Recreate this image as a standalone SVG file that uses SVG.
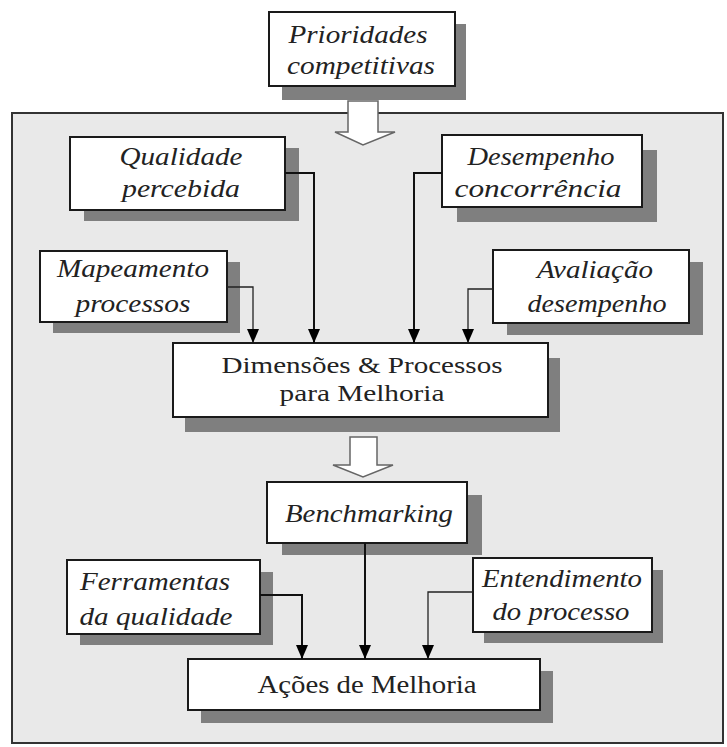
<svg xmlns="http://www.w3.org/2000/svg" width="727" height="747" viewBox="0 0 727 747">
<style>
.shadow{fill:#7f7f7f}
.box{fill:#ffffff;stroke:#1a1a1a;stroke-width:2}
.it{font-family:"Liberation Serif",serif;font-style:italic;font-size:26px;fill:#222;text-anchor:middle}
.rm{font-family:"Liberation Serif",serif;font-size:26px;fill:#222;text-anchor:middle}
.rm2{font-family:"Liberation Serif",serif;font-size:24px;fill:#222;text-anchor:middle}
.con{fill:none;stroke:#111;stroke-width:2}
.thin{fill:none;stroke:#222;stroke-width:1.3}
.hollow{fill:#ffffff;stroke:#666;stroke-width:1.5}
</style>
<defs>
<marker id="ah" markerUnits="userSpaceOnUse" viewBox="0 0 14 12" refX="14" refY="6" markerWidth="14" markerHeight="12" orient="auto">
<path d="M0,0 L14,6 L0,12 z" fill="#000"/>
</marker>
</defs>
<rect width="727" height="747" fill="#ffffff"/>
<rect x="12" y="113" width="711" height="630" fill="#e9e9e9" stroke="#333" stroke-width="2"/>

<g id="prioridades">
<rect class="shadow" x="282" y="24" width="184" height="76"/>
<rect class="box" x="269" y="12" width="186" height="74"/>
<text class="it" x="358" y="43" textLength="139" lengthAdjust="spacingAndGlyphs">Prioridades</text>
<text class="it" x="361" y="74" textLength="148" lengthAdjust="spacingAndGlyphs">competitivas</text>
</g>
<polygon class="hollow" points="348,101 378,101 378,132 395,132 363,145 335,132 348,132"/>

<g id="qualidade">
<rect class="shadow" x="84" y="148" width="215" height="73"/>
<rect class="box" x="70" y="137" width="215" height="73"/>
<text class="it" x="181" y="165" textLength="123" lengthAdjust="spacingAndGlyphs">Qualidade</text>
<text class="it" x="181" y="197" textLength="118" lengthAdjust="spacingAndGlyphs">percebida</text>
</g>

<g id="desempenho">
<rect class="shadow" x="457" y="150" width="200" height="72"/>
<rect class="box" x="442" y="135" width="200" height="72"/>
<text class="it" x="541" y="165" textLength="147" lengthAdjust="spacingAndGlyphs">Desempenho</text>
<text class="it" x="538" y="197" textLength="167" lengthAdjust="spacingAndGlyphs">concorrência</text>
</g>

<g id="mapeamento">
<rect class="shadow" x="53" y="262" width="187" height="71"/>
<rect class="box" x="40" y="251" width="187" height="71"/>
<text class="it" x="133" y="277" textLength="152" lengthAdjust="spacingAndGlyphs">Mapeamento</text>
<text class="it" x="133" y="312" textLength="115" lengthAdjust="spacingAndGlyphs">processos</text>
</g>

<g id="avaliacao">
<rect class="shadow" x="507" y="262" width="196" height="73"/>
<rect class="box" x="493" y="250" width="196" height="73"/>
<text class="it" x="595" y="278" textLength="116" lengthAdjust="spacingAndGlyphs">Avaliação</text>
<text class="it" x="597" y="312" textLength="139" lengthAdjust="spacingAndGlyphs">desempenho</text>
</g>

<g id="dimensoes">
<rect class="shadow" x="185" y="358" width="375" height="74"/>
<rect class="box" x="173" y="343" width="375" height="74"/>
<text class="rm2" x="362" y="373" textLength="281" lengthAdjust="spacingAndGlyphs">Dimensões &amp; Processos</text>
<text class="rm2" x="362" y="401" textLength="165" lengthAdjust="spacingAndGlyphs">para Melhoria</text>
</g>
<polygon class="hollow" points="350,437 377,437 377,465 393,465 363,477 333,465 350,465"/>

<g id="benchmarking">
<rect class="shadow" x="282" y="495" width="200" height="60"/>
<rect class="box" x="267" y="482" width="200" height="61"/>
<text class="it" x="369" y="522" textLength="168" lengthAdjust="spacingAndGlyphs">Benchmarking</text>
</g>

<g id="ferramentas">
<rect class="shadow" x="80" y="572" width="193" height="73"/>
<rect class="box" x="67" y="560" width="193" height="74"/>
<text class="it" x="155" y="590" textLength="150" lengthAdjust="spacingAndGlyphs">Ferramentas</text>
<text class="it" x="156" y="625" textLength="153" lengthAdjust="spacingAndGlyphs">da qualidade</text>
</g>

<g id="entendimento">
<rect class="shadow" x="484" y="570" width="179" height="73"/>
<rect class="box" x="473" y="558" width="179" height="74"/>
<text class="it" x="562" y="587" textLength="160" lengthAdjust="spacingAndGlyphs">Entendimento</text>
<text class="it" x="561" y="620" textLength="137" lengthAdjust="spacingAndGlyphs">do processo</text>
</g>

<g id="acoes">
<rect class="shadow" x="201" y="671" width="352" height="52"/>
<rect class="box" x="188" y="659" width="352" height="51"/>
<text class="rm" x="367" y="693" textLength="219" lengthAdjust="spacingAndGlyphs">Ações de Melhoria</text>
</g>

<g id="connectors">
<polyline class="con" points="285,173 314,173 314,343" marker-end="url(#ah)"/>
<polyline class="con" points="442,173 414,173 414,343" marker-end="url(#ah)"/>
<polyline class="thin" points="227,287 253,287 253,343" marker-end="url(#ah)"/>
<polyline class="thin" points="493,289 468,289 468,343" marker-end="url(#ah)"/>
<polyline class="con" points="365,543 365,659" marker-end="url(#ah)"/>
<polyline class="con" points="260,595 302,595 302,659" marker-end="url(#ah)"/>
<polyline class="thin" points="473,592 428,592 428,659" marker-end="url(#ah)"/>
</g>
</svg>
